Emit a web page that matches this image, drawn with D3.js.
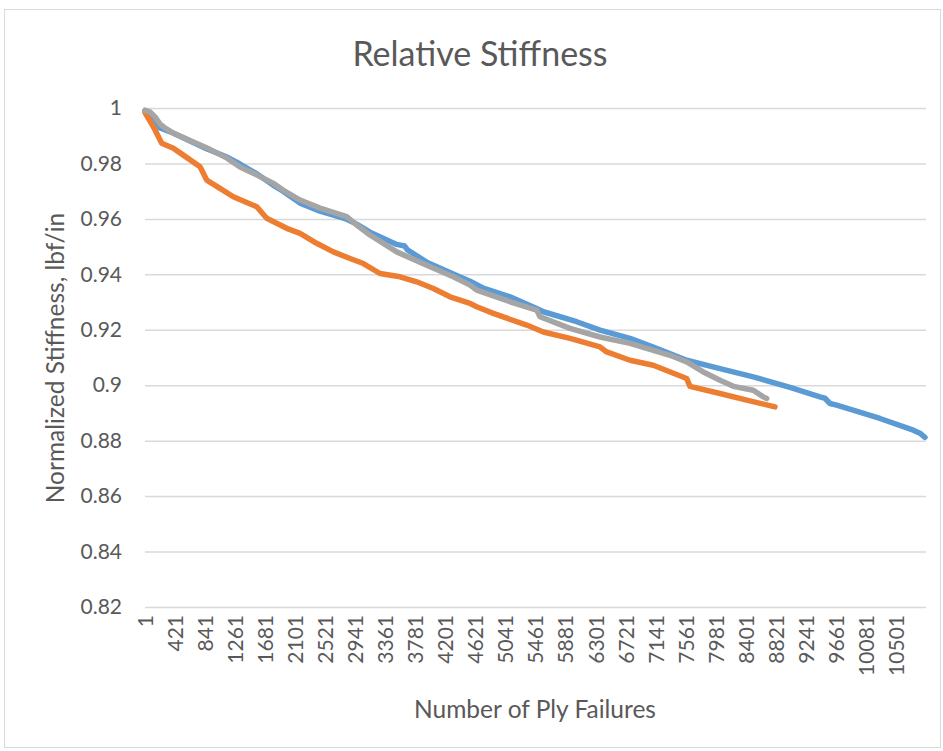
<!DOCTYPE html>
<html><head><meta charset="utf-8">
<script src="https://cdn.jsdelivr.net/npm/d3@7"></script>
<style>html,body{margin:0;padding:0;background:#fff;} svg{display:block;}</style>
</head><body>
<svg id="chart" width="943" height="751"></svg>
<script>
const chartTitle = "Relative Stiffness";
const xTitle = "Number of Ply Failures";
const yTitle = "Normalized Stiffness, lbf/in";
const categoryCount = 10919;
const xTickLabels = [1,421,841,1261,1681,2101,2521,2941,3361,3781,4201,4621,5041,5461,5881,6301,6721,7141,7561,7981,8401,8821,9241,9661,10081,10501];
const yTicks = [0.82,0.84,0.86,0.88,0.9,0.92,0.94,0.96,0.98,1];

const blueX = [1,99,211,392,868,1147,1329,1567,1790,1930,2168,2447,2820,2960,3146,3520,3630,3670,3939,4311,4545,4731,5104,5477,5570,6036,6362,6781,7107,7574,8040,8505,9018,9437,9507,9577,9671,10276,10742,10835,10905];
const blueY = [0.9991,0.9975,0.9928,0.9910,0.9852,0.9823,0.9798,0.9762,0.9722,0.9700,0.9657,0.9628,0.9599,0.9581,0.9552,0.9508,0.9502,0.9488,0.9444,0.9401,0.9375,0.9350,0.9319,0.9277,0.9265,0.9229,0.9199,0.9169,0.9138,0.9090,0.9060,0.9030,0.8992,0.8958,0.8953,0.8934,0.8928,0.8880,0.8838,0.8827,0.8812];

const orangeX = [1,141,234,397,536,770,863,1049,1235,1563,1702,1982,2168,2401,2634,2867,3053,3286,3566,3799,4032,4265,4545,4638,4870,5337,5570,5943,6362,6456,6781,7107,7574,7620,8040,8413,8808];
const orangeY = [0.9983,0.9921,0.9873,0.9855,0.9830,0.9788,0.9740,0.9710,0.9680,0.9644,0.9602,0.9566,0.9548,0.9512,0.9481,0.9457,0.9439,0.9403,0.9391,0.9373,0.9349,0.9319,0.9295,0.9283,0.9259,0.9217,0.9192,0.9169,0.9138,0.9120,0.9090,0.9072,0.9024,0.8996,0.8970,0.8946,0.8922];

const grayX = [1,71,141,211,281,392,868,1147,1329,1567,1790,1930,2168,2447,2820,2960,3146,3520,3939,4311,4545,4638,5104,5477,5523,5943,6362,6781,7107,7340,7574,7806,8040,8226,8505,8645,8692];
const grayY = [0.9991,0.9986,0.9968,0.9942,0.9928,0.9910,0.9856,0.9819,0.9787,0.9758,0.9729,0.9704,0.9668,0.9639,0.9608,0.9578,0.9542,0.9481,0.9433,0.9391,0.9361,0.9343,0.9301,0.9271,0.9247,0.9205,0.9174,0.9151,0.9126,0.9108,0.9084,0.9048,0.9018,0.8996,0.8982,0.8958,0.8952];

const series = [
  {name:"blue", color:"#5B9BD5", xs:blueX, ys:blueY},
  {name:"orange", color:"#ED7D31", xs:orangeX, ys:orangeY},
  {name:"gray", color:"#A5A5A5", xs:grayX, ys:grayY}
];

const svg = d3.select("#chart");
const font = "Lato, 'Open Sans', sans-serif";
const textColor = "#595959";
const plot = {left:145, right:926, top:108, bottom:607};

svg.append("rect").attr("x",4.5).attr("y",9.5).attr("width",936).attr("height",738)
  .attr("fill","#fff").attr("stroke","#D9D9D9").attr("stroke-width",1);

const x = d3.scaleLinear().domain([0.5, categoryCount+0.5]).range([plot.left, plot.right]);
const y = d3.scaleLinear().domain([0.82, 1]).range([plot.bottom, plot.top]);

const yAxis = d3.axisLeft(y).tickValues(yTicks).tickSize(-(plot.right-plot.left)).tickPadding(23)
  .tickFormat(d => d3.format("")(+d.toFixed(2)));
const gy = svg.append("g").attr("transform",`translate(${plot.left},0)`).call(yAxis);
gy.select(".domain").remove();
gy.selectAll(".tick line").attr("stroke","#D9D9D9").attr("stroke-width",1.5);
gy.selectAll(".tick text").attr("fill",textColor).style("font-family",font).style("font-size","21px");

const xAxis = d3.axisBottom(x).tickValues(xTickLabels).tickSize(0).tickFormat(d3.format("d"));
const gx = svg.append("g").attr("transform",`translate(0,${plot.bottom})`).call(xAxis);
gx.select(".domain").remove();
gx.selectAll(".tick text")
  .attr("fill",textColor).style("font-family",font).style("font-size","21px")
  .attr("text-anchor","end").attr("transform","rotate(-90)")
  .attr("x",-8).attr("y",0).attr("dy","0.35em");

const line = d3.line().x(d => x(d[0])).y(d => y(d[1]));
series.forEach(s => {
  const pts = s.xs.map((v,i) => [v, s.ys[i]]);
  svg.append("path").datum(pts).attr("d", line)
    .attr("fill","none").attr("stroke", s.color).attr("stroke-width",5.5)
    .attr("stroke-linejoin","round").attr("stroke-linecap","round");
});

svg.append("text").attr("x",480).attr("y",54).attr("dy","0.35em").attr("text-anchor","middle")
  .attr("fill",textColor).style("font-family",font).style("font-size","34px").text(chartTitle);
svg.append("text").attr("x",535).attr("y",709).attr("dy","0.35em").attr("text-anchor","middle")
  .attr("fill",textColor).style("font-family",font).style("font-size","24.5px").text(xTitle);
svg.append("text").attr("transform","translate(55,358) rotate(-90)").attr("dy","0.35em").attr("text-anchor","middle")
  .attr("fill",textColor).style("font-family",font).style("font-size","24.5px").text(yTitle);
</script>
</body></html>
